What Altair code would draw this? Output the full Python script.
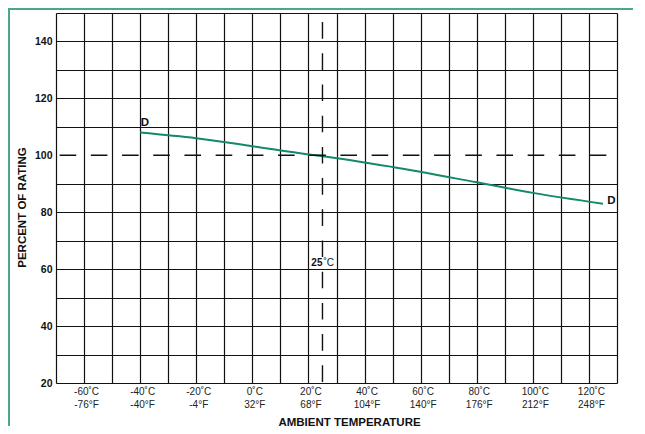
import altair as alt
import pandas as pd

# Derating curve "D"
temps = [-40, -20, 0, 20, 25, 50, 80, 100, 125]
ratings = [108.0, 106.0, 103.2, 100.3, 99.7, 95.9, 90.5, 86.8, 83.0]

# Axis ticks / labels
c_ticks = [-60, -40, -20, 0, 20, 40, 60, 80, 100, 120]
c_labels = ["-60˚C", "-40˚C", "-20˚C", "0˚C", "20˚C", "40˚C", "60˚C", "80˚C", "100˚C", "120˚C"]
f_labels = ["-76°F", "-40°F", "-4°F", "32°F", "68°F", "104°F", "140°F", "176°F", "212°F", "248°F"]
x_grid = list(range(-70, 131, 10))
y_grid = [20, 30, 40, 50, 60, 70, 80, 90, 110, 120, 130, 140, 150]
y_labels = [20, 40, 60, 80, 100, 120, 140]
y_axis_values = sorted(set(y_grid) | set(y_labels))

# Reference lines
ref_rating = 100
ref_rating_span = [-68.7, 126.2]
ref_temp = 25
ref_temp_span = [146.8, 20]

# Annotations
d_x = [-38.3, 128.0]
d_y = [111.4, 84.1]
d_text = ["D", "D"]

FONT = "Liberation Sans"
GREEN_LINE = "#12896a"
FRAME = "#4aa882"
W, H = 561, 370
PAD = {"left": 48, "top": 5, "right": 16, "bottom": 43}

label_expr = "''"
for t, c, f in reversed(list(zip(c_ticks, c_labels, f_labels))):
    label_expr = f"datum.value == {t} ? ['{c}', '{f}'] : ({label_expr})"
ylab_expr = "indexof([" + ",".join(str(v) for v in y_labels) + "], datum.value) >= 0 ? datum.label : ''"
ygrid_expr = "indexof([" + ",".join(str(v) for v in y_grid) + "], datum.value) >= 0 ? 1 : 0"

xscale = alt.Scale(domain=[-70, 130], nice=False, zero=False)
yscale = alt.Scale(domain=[20, 150], nice=False, zero=False)

x_axis = alt.Axis(
    values=x_grid, tickCount=100, grid=True, gridColor="#111", gridWidth=1.2, gridOpacity=1,
    ticks=False, domain=False, labelExpr=label_expr, labelFont=FONT,
    labelFontSize=10, labelColor="#222", labelPadding=3, labelLineHeight=13,
    labelOffset=2, labelFlush=False, labelOverlap=False, labelBaseline="top",
    title="AMBIENT TEMPERATURE", titleFont=FONT, titleFontSize=11.5,
    titleFontWeight="bold", titleColor="#111", titleX=293, titleY=39,
    titleBaseline="middle", titleAlign="center",
)
y_axis = alt.Axis(
    values=y_axis_values, tickCount=100, grid=True, gridColor="#111", gridWidth=1.2,
    gridOpacity=alt.ExprRef(expr=ygrid_expr),
    ticks=False, domain=False, labelExpr=ylab_expr, labelFont=FONT,
    labelFontSize=10.5, labelFontWeight="bold", labelColor="#111",
    labelPadding=4, labelFlush=False, labelOverlap=False,
    title="PERCENT OF RATING", titleFont=FONT, titleFontSize=11.5,
    titleFontWeight="bold", titleColor="#111", titleX=-34, titleY=194,
    titleBaseline="middle", titleAlign="center", titleAngle=-90,
)

curve_df = pd.DataFrame({"temp": temps, "rating": ratings})
curve = alt.Chart(curve_df).mark_line(color=GREEN_LINE, strokeWidth=2, interpolate="monotone").encode(
    x=alt.X("temp:Q", scale=xscale, axis=x_axis),
    y=alt.Y("rating:Q", scale=yscale, axis=y_axis),
)

h_df = pd.DataFrame({"temp": [ref_rating_span[0]], "temp2": [ref_rating_span[1]], "rating": [ref_rating]})
h_rule = alt.Chart(h_df).mark_rule(color="#111", strokeWidth=1.5, strokeDash=[16.6, 14.6]).encode(
    x=alt.X("temp:Q", scale=xscale, title="AMBIENT TEMPERATURE"),
    x2="temp2:Q",
    y=alt.Y("rating:Q", scale=yscale, title="PERCENT OF RATING"),
)

v_df = pd.DataFrame({"temp": [ref_temp], "rating": [ref_temp_span[0]], "rating2": [ref_temp_span[1]]})
v_rule = alt.Chart(v_df).mark_rule(color="#111", strokeWidth=1.4, strokeDash=[16.6, 14.6]).encode(
    x=alt.X("temp:Q", scale=xscale, title="AMBIENT TEMPERATURE"),
    y=alt.Y("rating:Q", scale=yscale, title="PERCENT OF RATING"),
    y2="rating2:Q",
)

d_df = pd.DataFrame({"temp": d_x, "rating": d_y, "t": d_text})
d_text_layer = alt.Chart(d_df).mark_text(font=FONT, fontSize=11.5, fontWeight="bold", color="#111").encode(
    x=alt.X("temp:Q", scale=xscale, title="AMBIENT TEMPERATURE"),
    y=alt.Y("rating:Q", scale=yscale, title="PERCENT OF RATING"),
    text="t:N",
)

t25_df = pd.DataFrame({"temp": [ref_temp], "rating": [62.0], "a": ["25"], "b": ["˚C"]})
t25a = alt.Chart(t25_df).mark_text(font=FONT, fontSize=10, fontWeight="bold", color="#111", align="right").encode(
    x=alt.X("temp:Q", scale=xscale, title="AMBIENT TEMPERATURE"),
    y=alt.Y("rating:Q", scale=yscale, title="PERCENT OF RATING"),
    text="a:N",
)
t25b = alt.Chart(t25_df).mark_text(font=FONT, fontSize=10, color="#111", align="left", dx=1).encode(
    x=alt.X("temp:Q", scale=xscale, title="AMBIENT TEMPERATURE"),
    y=alt.Y("rating:Q", scale=yscale, title="PERCENT OF RATING"),
    text="b:N",
)

frame_df = pd.DataFrame({"k": [0]})
frame_top = alt.Chart(frame_df).mark_rule(color=FRAME, strokeWidth=2).encode(
    x=alt.value(-PAD["left"]), x2=alt.value(W + PAD["right"]), y=alt.value(-PAD["top"] + 1),
)
frame_left = alt.Chart(frame_df).mark_rule(color=FRAME, strokeWidth=2).encode(
    x=alt.value(-PAD["left"] + 1), y=alt.value(-PAD["top"]), y2=alt.value(H + PAD["bottom"]),
)

chart = alt.layer(curve, h_rule, v_rule, d_text_layer, t25a, t25b, frame_top, frame_left).properties(
    width=W, height=H, padding=PAD, autosize=alt.AutoSizeParams(type="none"),
).configure_view(stroke=None).configure(background="white")

chart.save("out.html", embed_options={"renderer": "svg", "actions": False})
